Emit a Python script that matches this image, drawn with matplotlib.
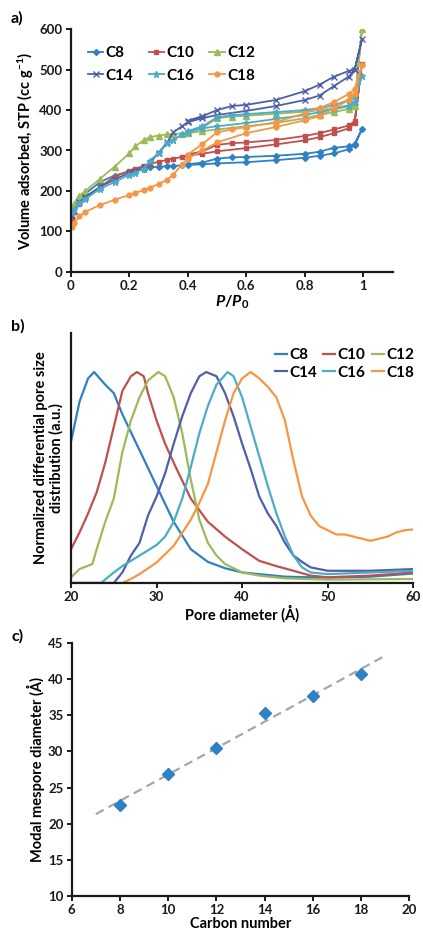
import matplotlib
matplotlib.use("Agg")
import matplotlib.pyplot as plt
import numpy as np

plt.rcParams["font.family"] = ["Lato", "DejaVu Sans"]
plt.rcParams["font.weight"] = "bold"
plt.rcParams["mathtext.fontset"] = "custom"
plt.rcParams["mathtext.rm"] = "Lato:bold"
plt.rcParams["mathtext.it"] = "Lato:italic:bold"
plt.rcParams["mathtext.bf"] = "Lato:bold"

# ---- panel a: N2 isotherms (adsorption then desorption branch) ----
SAMPLES = ["C8", "C10", "C12", "C14", "C16", "C18"]
P_ADS = [0.005, 0.01, 0.03, 0.05, 0.1, 0.15, 0.2, 0.22, 0.25, 0.27, 0.3, 0.33,
         0.35, 0.38, 0.4, 0.45, 0.5, 0.6, 0.7, 0.8, 0.85, 0.9, 0.95, 0.97, 0.995]
P_DES = [0.97, 0.95, 0.9, 0.85, 0.8, 0.7, 0.6, 0.55, 0.5, 0.45, 0.4]

V_ADS = {
    "C8":  [150, 160, 180, 193, 222, 238, 248, 251, 255, 258, 260, 261, 262, 263,
            264, 266, 268, 271, 276, 282, 287, 293, 303, 313, 353],
    "C10": [130, 148, 168, 183, 210, 235, 250, 255, 262, 267, 272, 277, 280, 284,
            287, 292, 298, 306, 315, 325, 333, 343, 355, 368, 515],
    "C12": [155, 168, 188, 200, 230, 260, 293, 310, 326, 333, 337, 340, 341, 342,
            343, 348, 352, 360, 368, 380, 388, 395, 403, 410, 600],
    "C14": [140, 150, 172, 185, 210, 228, 245, 250, 258, 268, 295, 320, 345, 360,
            370, 380, 388, 398, 410, 425, 436, 460, 483, 500, 575],
    "C16": [145, 155, 170, 180, 205, 222, 240, 245, 255, 275, 293, 318, 325, 340,
            345, 355, 360, 368, 378, 388, 395, 402, 410, 420, 485],
    "C18": [110, 120, 137, 148, 165, 178, 190, 195, 202, 208, 217, 228, 240, 265,
            280, 300, 320, 343, 358, 375, 385, 405, 425, 440, 512],
}
V_DES = {
    "C8":  [316, 310, 307, 297, 292, 287, 284, 283, 280, 270, 266],
    "C10": [372, 362, 352, 343, 336, 326, 320, 318, 314, 298, 290],
    "C12": [420, 412, 405, 400, 396, 391, 386, 384, 380, 356, 346],
    "C14": [500, 497, 483, 463, 447, 425, 413, 410, 400, 385, 374],
    "C16": [435, 425, 412, 405, 400, 395, 390, 387, 382, 360, 348],
    "C18": [452, 440, 420, 405, 392, 370, 358, 352, 345, 316, 290],
}

# ---- panel b: normalised pore size distributions ----
PSD_D = {
    "C8":  [20, 21, 22, 22.7, 24, 25, 26, 28, 30, 32, 34, 36, 38, 40, 45, 50, 55, 60],
    "C10": [20, 21, 22, 23, 24, 25, 26, 27, 27.7, 28.5, 29, 30, 31, 32, 34, 36, 38,
            40, 42, 44, 46, 48, 50, 55, 60],
    "C12": [20, 21, 22.5, 23, 24, 25, 26, 27, 28, 29, 30.2, 31, 32, 33, 34, 35, 36,
            37, 38, 40, 42, 45, 50, 60],
    "C14": [20, 25, 26, 27, 28, 29, 30, 31, 32, 33, 34, 35, 35.8, 37, 38, 39, 40,
            41, 42, 43, 44, 45, 46, 47, 48, 50, 55, 60],
    "C16": [20, 23.5, 25, 26, 28, 30, 31, 32, 33, 34, 35, 36, 37, 38.3, 39, 40, 41,
            42, 43, 44, 45, 46, 47, 48, 50, 55, 60],
    "C18": [20, 26, 27, 28, 30, 32, 34, 35, 36, 37, 38, 39, 40, 41, 42, 43, 44, 45,
            46, 47, 48, 49, 50, 51, 52, 53, 54, 55, 56, 57, 58, 59, 60],
}
PSD_Y = {
    "C8":  [0.67, 0.86, 0.97, 1.0, 0.94, 0.90, 0.80, 0.63, 0.46, 0.29, 0.16, 0.10,
            0.07, 0.05, 0.03, 0.025, 0.03, 0.045],
    "C10": [0.16, 0.24, 0.33, 0.43, 0.57, 0.74, 0.91, 0.98, 1.0, 0.98, 0.90, 0.77,
            0.66, 0.57, 0.40, 0.29, 0.22, 0.16, 0.105, 0.08, 0.058, 0.035, 0.027,
            0.035, 0.05],
    "C12": [0.027, 0.066, 0.09, 0.16, 0.29, 0.40, 0.62, 0.77, 0.88, 0.96, 1.0, 0.98,
            0.88, 0.71, 0.49, 0.30, 0.19, 0.13, 0.09, 0.05, 0.035, 0.022, 0.016,
            0.019],
    "C14": [0.0, 0.0, 0.05, 0.13, 0.19, 0.32, 0.41, 0.52, 0.66, 0.79, 0.90, 0.98,
            1.0, 0.98, 0.90, 0.79, 0.66, 0.54, 0.41, 0.33, 0.27, 0.19, 0.13, 0.10,
            0.074, 0.058, 0.058, 0.066],
    "C16": [0.0, 0.0, 0.05, 0.08, 0.13, 0.18, 0.22, 0.29, 0.40, 0.55, 0.71, 0.84,
            0.94, 1.0, 0.98, 0.88, 0.74, 0.60, 0.46, 0.33, 0.22, 0.13, 0.074, 0.05,
            0.042, 0.05, 0.058],
    "C18": [0.0, 0.0, 0.019, 0.042, 0.097, 0.176, 0.30, 0.38, 0.47, 0.62, 0.77,
            0.90, 0.97, 1.0, 0.97, 0.93, 0.88, 0.77, 0.58, 0.41, 0.32, 0.27, 0.25,
            0.23, 0.23, 0.22, 0.21, 0.20, 0.21, 0.22, 0.24, 0.25, 0.254],
}

# ---- panel c: modal mesopore diameter vs carbon number ----
CARBON = [8, 10, 12, 14, 16, 18]
MODAL_D = [22.6, 26.9, 30.5, 35.3, 37.7, 40.8]

COLORS = {"C8": "#2F80C4", "C10": "#C0504D", "C12": "#9BBB59",
          "C14": "#4F5FA8", "C16": "#4BACC6", "C18": "#F79646"}
MARKERS = {"C8": ("D", 3), "C10": ("s", 3.5), "C12": ("^", 4),
           "C14": ("x", 4), "C16": ("*", 5), "C18": ("o", 3.5)}

W, H = 423, 939
fig = plt.figure(figsize=(W / 100, H / 100), dpi=100)


def ax_at(left, top, right, bottom):
    return fig.add_axes([left / W, 1 - bottom / H, (right - left) / W, (bottom - top) / H])


def style(ax):
    for s in ("top", "right"):
        ax.spines[s].set_visible(False)
    for s in ("left", "bottom"):
        ax.spines[s].set_linewidth(1.6)
        ax.spines[s].set_color("#1a1a1a")
    ax.tick_params(direction="out", length=3.5, width=1.4, labelsize=9.5, pad=2.5,
                   colors="#1a1a1a")
    for lab in ax.get_xticklabels() + ax.get_yticklabels():
        lab.set_fontweight("bold")


def row_legend(ax, **kw):
    # matplotlib fills legend columns first; reorder so entries run along rows
    h, l = ax.get_legend_handles_labels()
    order = [0, 3, 1, 4, 2, 5]
    return ax.legend([h[i] for i in order], [l[i] for i in order], ncol=3,
                     frameon=False, borderaxespad=0,
                     prop={"weight": "bold", "size": 11}, **kw)


# a)
ax1 = ax_at(70.7, 29.3, 392.7, 271.7)
for s in SAMPLES:
    m, ms = MARKERS[s]
    ax1.plot(P_ADS + P_DES, V_ADS[s] + V_DES[s], color=COLORS[s], lw=1.3,
             marker=m, ms=ms, mew=1.0, label=s)
ax1.set_xlim(0, 1.1)
ax1.set_ylim(0, 600)
ax1.set_xticks(np.arange(0, 1.01, 0.2))
ax1.set_xticklabels(["0", "0.2", "0.4", "0.6", "0.8", "1"])
ax1.set_yticks(range(0, 601, 100))
style(ax1)
ax1.set_xlabel(r"$\mathit{P}/\mathit{P}_{\mathrm{0}}$", fontsize=11.5, labelpad=1)
ax1.set_ylabel(r"Volume adsorbed, STP (cc g$^{\mathrm{-1}}$)", fontsize=10.5,
               fontweight="bold", labelpad=2)
row_legend(ax1, loc="upper left", bbox_to_anchor=(0.035, 0.955), handlelength=1.0,
           handletextpad=0.15, columnspacing=1.0, labelspacing=0.55)
fig.text(11 / W, 1 - 18 / H, "a)", fontsize=11.5, fontweight="bold", va="center")

# b)
ax2 = ax_at(71, 333, 413.3, 583)
for s in SAMPLES:
    ax2.plot(PSD_D[s], PSD_Y[s], color=COLORS[s], lw=1.6, label=s)
ax2.set_xlim(20, 60)
ax2.set_ylim(0, 1.185)
ax2.set_xticks(range(20, 61, 10))
ax2.set_yticks([])
style(ax2)
ax2.set_xlabel("Pore diameter (Å)", fontsize=10.5, fontweight="bold", labelpad=1)
ax2.set_ylabel("Normalized differential pore size\ndistribution (a.u.)",
               fontsize=10.5, fontweight="bold", labelpad=5, linespacing=1.1)
row_legend(ax2, loc="upper right", bbox_to_anchor=(1.02, 0.965), handlelength=0.8,
           handletextpad=0.15, columnspacing=0.4, labelspacing=0.25)
fig.text(11 / W, 1 - 326 / H, "b)", fontsize=11.5, fontweight="bold", va="center")

# c)
ax3 = ax_at(71.7, 643.3, 409.3, 895.7)
slope, icpt = np.polyfit(CARBON, MODAL_D, 1)
xfit = np.array([CARBON[0] - 1, CARBON[-1] + 1])
ax3.plot(xfit, slope * xfit + icpt, ls=(0, (4, 2.5)), color="#A6A6A6", lw=1.6)
ax3.plot(CARBON, MODAL_D, ls="none", marker="D", ms=6, color="#2F80C4")
ax3.set_xlim(6, 20)
ax3.set_ylim(10, 45)
ax3.set_xticks(range(6, 21, 2))
ax3.set_yticks(range(10, 46, 5))
style(ax3)
ax3.set_xlabel("Carbon number", fontsize=10.5, fontweight="bold", labelpad=1)
ax3.set_ylabel("Modal mespore diameter (Å)", fontsize=10.5, fontweight="bold",
               labelpad=2)
fig.text(11 / W, 1 - 636 / H, "c)", fontsize=11.5, fontweight="bold", va="center")

fig.savefig("out.png", dpi=100)
